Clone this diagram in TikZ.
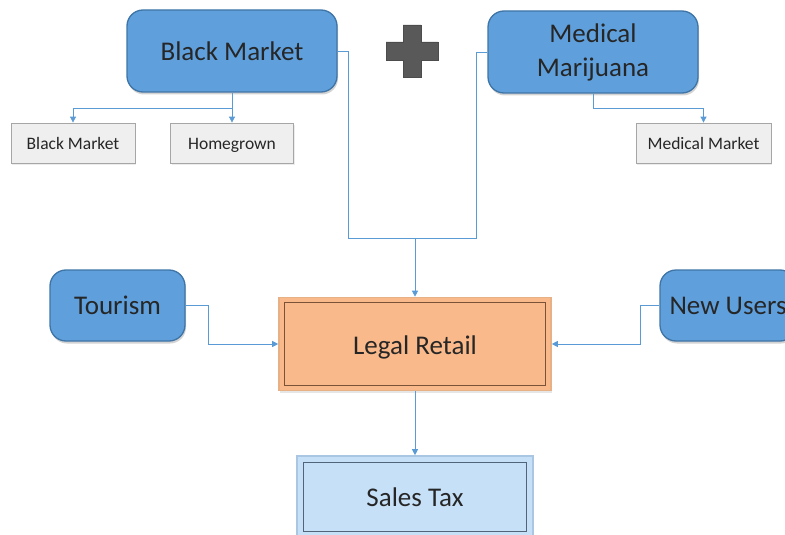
\documentclass[tikz,border=0pt]{standalone}
\usepackage{fontspec}
\setmainfont{Carlito}
\usetikzlibrary{shadows,arrows.meta}
\definecolor{bluefill}{HTML}{5FA0DC}
\definecolor{blueedge}{HTML}{3E74A6}
\definecolor{txt}{HTML}{262626}
\definecolor{conncol}{HTML}{5B9BD5}
\definecolor{greyfill}{HTML}{EFEFEF}
\definecolor{greyedge}{HTML}{A6A6A6}
\definecolor{orangefill}{HTML}{F9B98B}
\definecolor{orangeedge}{HTML}{E8B085}
\definecolor{orangeinner}{HTML}{7A5238}
\definecolor{lightbluefill}{HTML}{C6E0F8}
\definecolor{lightblueedge}{HTML}{A9C6E2}
\definecolor{lightblueinner}{HTML}{51657A}
\definecolor{plusgrey}{HTML}{595959}
\begin{document}
\begin{tikzpicture}[x=1pt,y=-1pt,
  bigblue/.style={rounded corners=16pt, fill=bluefill, draw=blueedge, line width=1.3pt,
    text=txt, inner sep=0pt, font=\fontsize{27}{34}\selectfont,
    drop shadow={opacity=0.35, shadow xshift=1pt, shadow yshift=-2.5pt}},
  smallbox/.style={fill=greyfill, draw=greyedge, line width=0.8pt, text=txt,
    inner sep=0pt, font=\fontsize{17.5}{20}\selectfont, text height=15pt, text depth=3pt,
    drop shadow={opacity=0.15, shadow xshift=1pt, shadow yshift=-1.5pt}},
  retailbox/.style={fill=orangefill, draw=orangeedge, line width=1.6pt, text=txt,
    inner sep=0pt, font=\fontsize{27}{34}\selectfont, text height=23pt, text depth=3pt,
    drop shadow={opacity=0.2, shadow xshift=1pt, shadow yshift=-2pt}},
  taxbox/.style={fill=lightbluefill, draw=lightblueedge, line width=1.6pt, text=txt,
    inner sep=0pt, font=\fontsize{27}{34}\selectfont},
  conn/.style={draw=conncol, line width=0.8pt, -{Triangle[width=6pt,length=6pt]}},
  plain/.style={draw=conncol, line width=0.8pt}
]
\useasboundingbox (0,0) rectangle (785,535);
\clip (0,0) rectangle (785,535);

% top nodes
\node[bigblue, minimum width=210pt, minimum height=82pt] (bm) at (232,51) {Black Market};
\node[bigblue, minimum width=210pt, minimum height=82pt, align=center] (mj) at (593,52) {Medical\\Marijuana};

% plus sign
\fill[plusgrey, draw=black!70, line width=0.5pt]
  (403,25) -- (421,25) -- (421,42) -- (438,42) -- (438,60) -- (421,60) -- (421,77)
  -- (403,77) -- (403,60) -- (386,60) -- (386,42) -- (403,42) -- cycle;

% small boxes
\node[smallbox, minimum width=124pt, minimum height=40pt] (bms) at (73,143) {Black Market};
\node[smallbox, minimum width=123pt, minimum height=40pt] (hg) at (232,143) {Homegrown};
\node[smallbox, minimum width=135pt, minimum height=40pt] (mmk) at (703.5,143) {Medical Market};

% middle
\node[bigblue, minimum width=135pt, minimum height=71pt] (tour) at (117.5,305.5) {Tourism};
\node[bigblue, minimum width=136pt, minimum height=71pt] (nu) at (728,305.5) {New Users};
\node[retailbox, minimum width=272pt, minimum height=93pt] (lr) at (415,344) {Legal Retail};
\draw[orangeinner, line width=1.3pt] ([shift={(6pt,-6pt)}]lr.north west) rectangle ([shift={(-6pt,6pt)}]lr.south east);

% bottom
\node[taxbox, minimum width=236pt, minimum height=82pt] (st) at (415,497) {Sales Tax};
\draw[lightblueinner, line width=1.3pt] ([shift={(7pt,-7pt)}]st.north west) rectangle ([shift={(-7pt,7pt)}]st.south east);

% connectors
\draw[conn] (bm.south) -- (bm.south |- 0,108) -| (bms.north);
\draw[conn] (bm.south) -- (hg.north);
\draw[conn] (mj.south) -- (mj.south |- 0,108) -| (mmk.north);

\coordinate (j) at (415,238);
\draw[plain] (bm.east) -| (348,238) -- (j);
\draw[plain] (mj.west) -| (476,238) -- (j);
\draw[conn] (j) -- (lr.north);

\draw[conn] (tour.east) -- ++(23,0) |- (lr.west);
\draw[conn] (nu.west) -- ++(-19,0) |- (lr.east);
\draw[conn] (lr.south) -- (st.north);
\end{tikzpicture}
\end{document}
